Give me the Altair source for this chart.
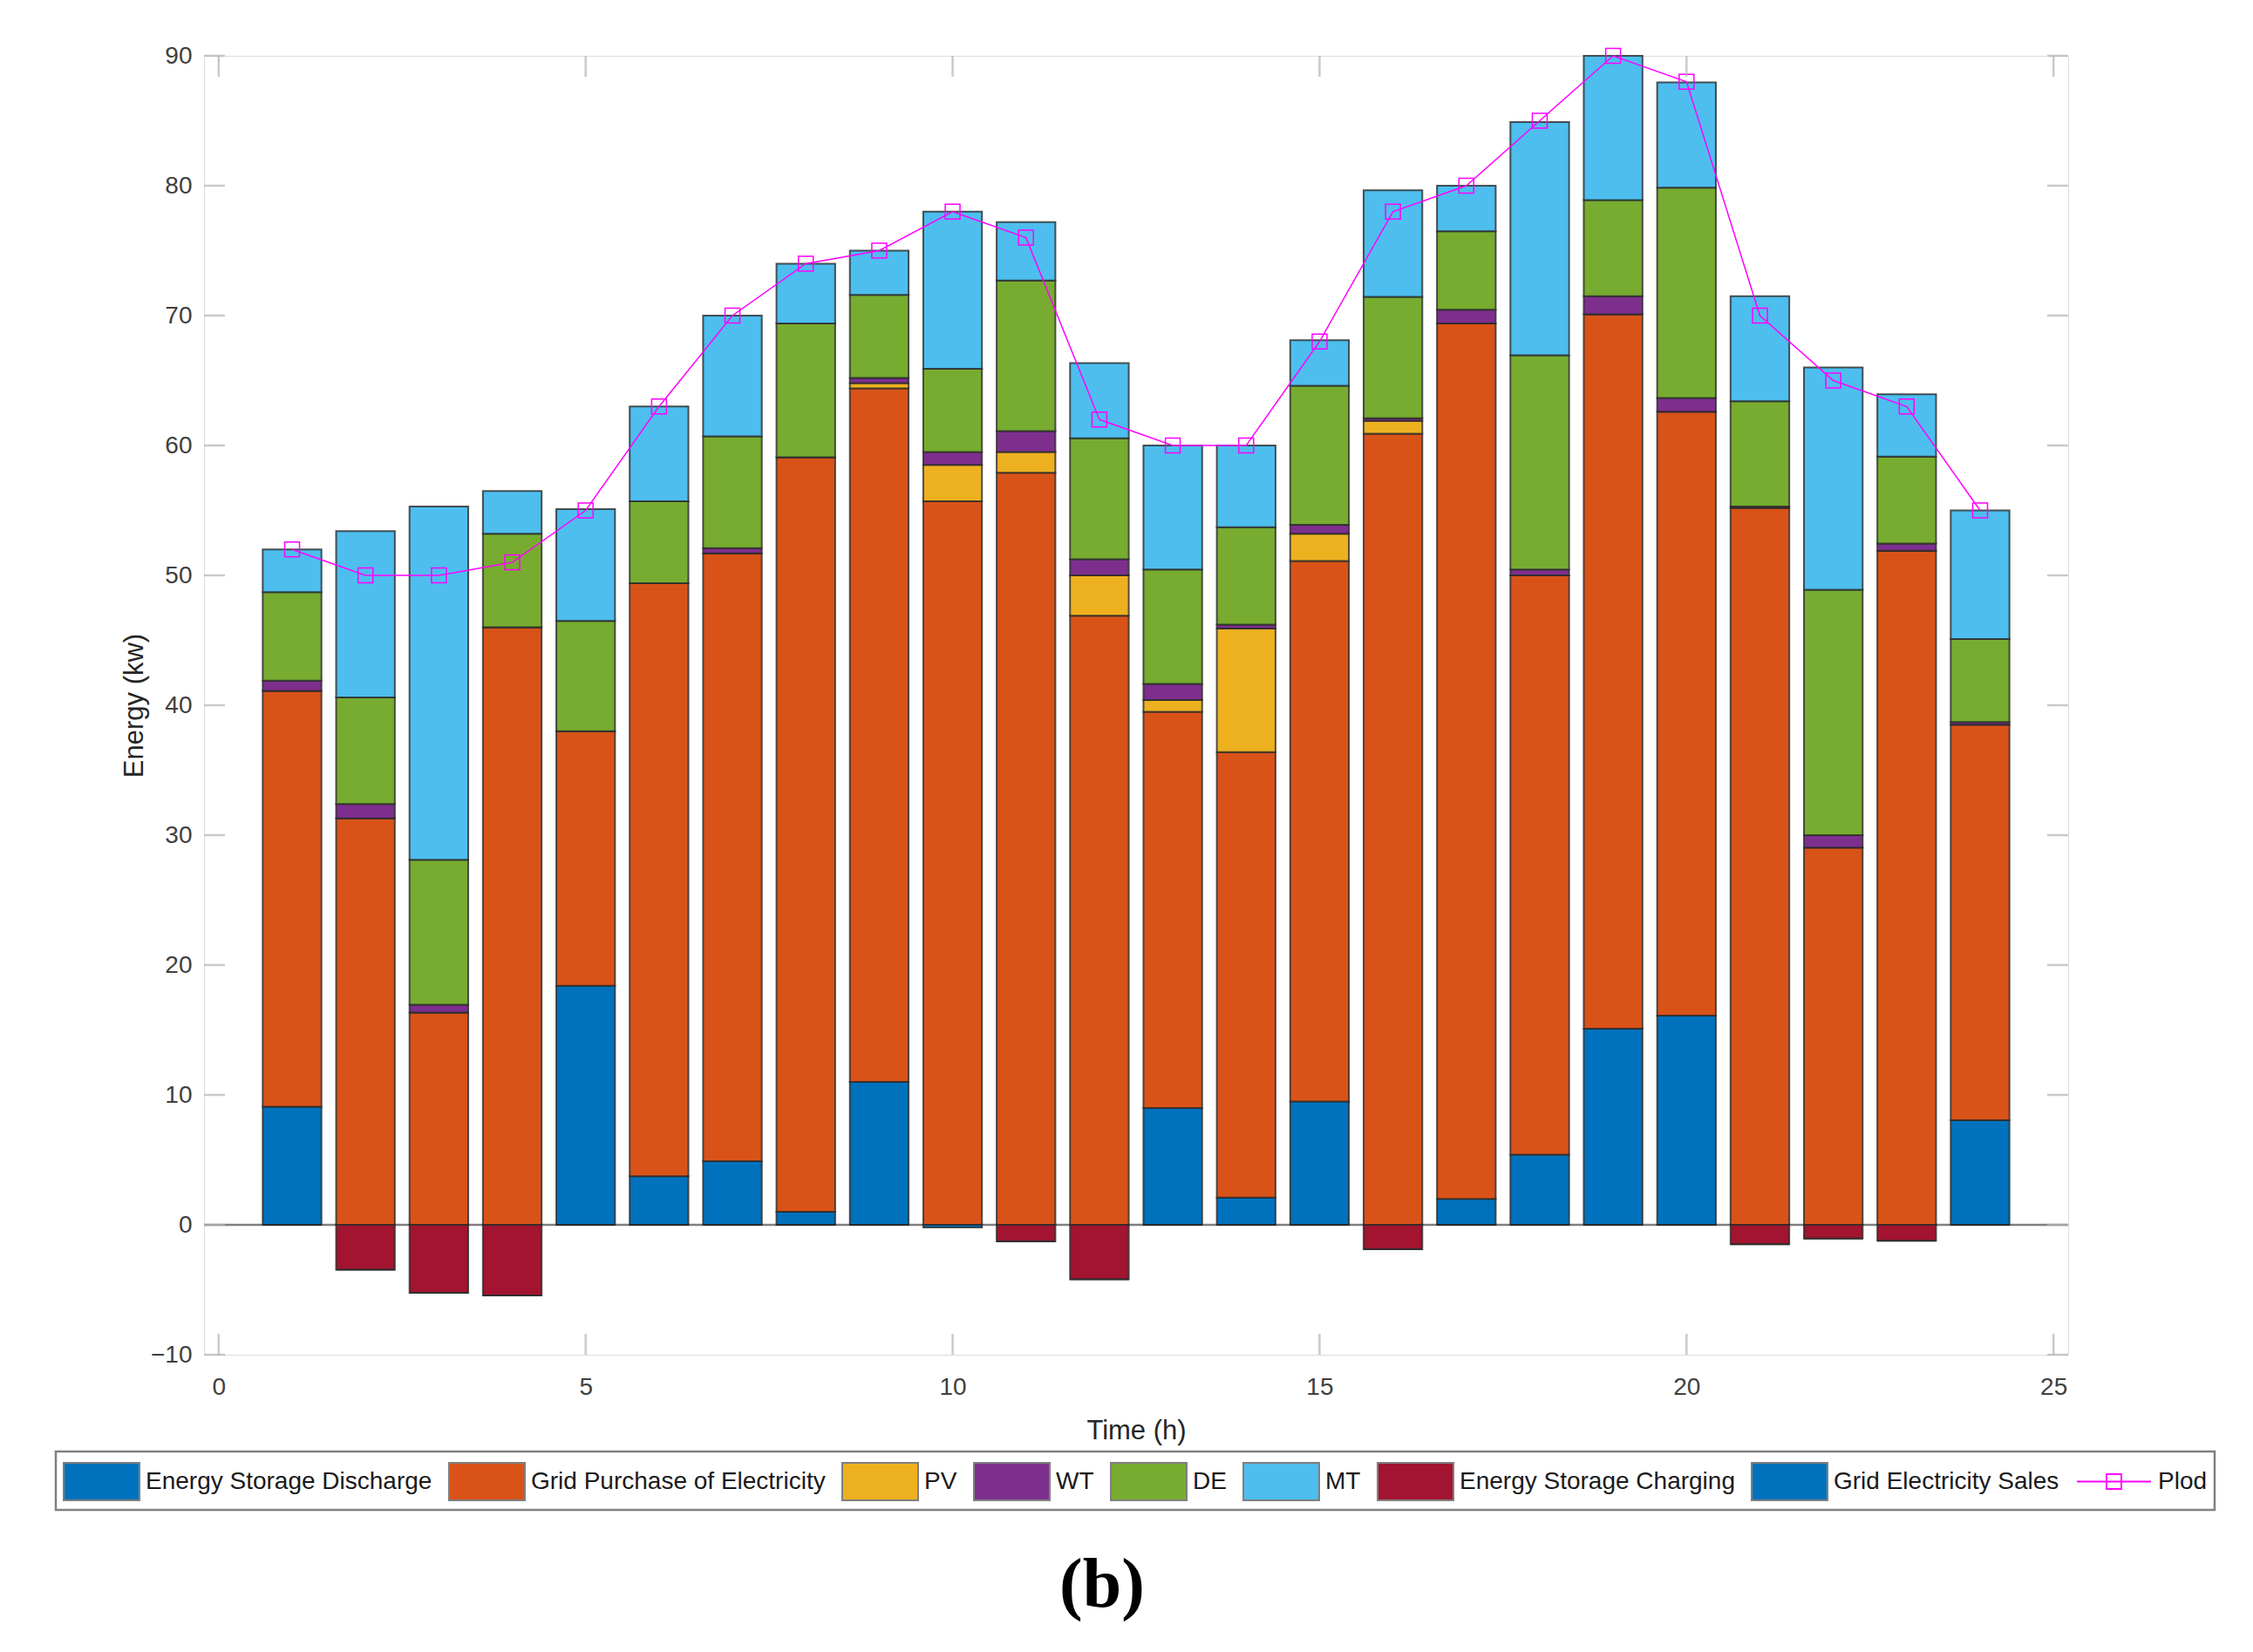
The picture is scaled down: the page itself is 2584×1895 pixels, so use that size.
import altair as alt
import pandas as pd

# ---------------- data ----------------
hours = list(range(1, 25))
discharge = [9.1, 0, 0, 0, 18.4, 3.75, 4.9, 1.0, 11.0, 0, 0, 0,
             9.0, 2.1, 9.5, 0, 2.0, 5.4, 15.1, 16.1, 0, 0, 0, 8.05]
grid_purchase = [32.0, 31.3, 16.35, 46.0, 19.6, 45.65, 46.8, 58.1, 53.4, 55.7, 57.9, 46.9,
                 30.5, 34.3, 41.6, 60.9, 67.4, 44.6, 55.0, 46.5, 55.2, 29.05, 51.9, 30.45]
pv = [0, 0, 0, 0, 0, 0, 0, 0, 0.4, 2.8, 1.6, 3.1,
      0.9, 9.5, 2.1, 1.0, 0, 0, 0, 0, 0, 0, 0, 0]
wt = [0.8, 1.1, 0.6, 0, 0, 0, 0.4, 0, 0.4, 1.0, 1.6, 1.25,
      1.25, 0.3, 0.7, 0.2, 1.05, 0.45, 1.4, 1.05, 0.1, 0.95, 0.55, 0.2]
de = [6.8, 8.2, 11.15, 7.2, 8.5, 6.3, 8.6, 10.3, 6.4, 6.4, 11.6, 9.3,
      8.8, 7.5, 10.7, 9.35, 6.05, 16.5, 7.4, 16.2, 8.1, 18.9, 6.7, 6.4]
mt = [3.3, 12.8, 27.2, 3.3, 8.6, 7.3, 9.3, 4.6, 3.4, 12.1, 4.5, 5.8,
      9.55, 6.3, 3.5, 8.2, 3.5, 17.95, 11.1, 8.1, 8.1, 17.1, 4.8, 9.9]
charging = [0, -3.45, -5.24, -5.44, 0, 0, 0, 0, 0, 0, -1.28, -4.2,
            0, 0, 0, -1.88, 0, 0, 0, 0, -1.5, -1.05, -1.23, 0]
sales = [0, 0, 0, 0, 0, 0, 0, 0, 0, -0.2, 0, 0,
         0, 0, 0, 0, 0, 0, 0, 0, 0, 0, 0, 0]
plod = [52, 50, 50, 51, 55, 63, 70, 74, 75, 78, 76, 62,
        60, 60, 68, 78, 80, 85, 90, 88, 70, 65, 63, 55]

series_names = ["Energy Storage Discharge", "Grid Purchase of Electricity", "PV", "WT",
                "DE", "MT", "Energy Storage Charging", "Grid Electricity Sales"]
series_colors = ["#0072BD", "#D95319", "#EDB120", "#7E2F8E",
                 "#77AC30", "#4DBEEE", "#A2142F", "#0072BD"]
x_ticks = [0, 5, 10, 15, 20, 25]
y_ticks = [-10, 0, 10, 20, 30, 40, 50, 60, 70, 80, 90]
caption = ["(b)"]

# ---------------- build stacked table ----------------
positive = [discharge, grid_purchase, pv, wt, de, mt]
negative = [charging, sales]
rows = []
for i, h in enumerate(hours):
    base = 0.0
    for k, s in enumerate(positive):
        rows.append(dict(hour=h, series=series_names[k], y0=base, y1=base + s[i]))
        base += s[i]
    base = 0.0
    for k, s in enumerate(negative):
        rows.append(dict(hour=h, series=series_names[6 + k], y0=base, y1=base + s[i]))
        base += s[i]
bars_df = pd.DataFrame(rows)
load_df = pd.DataFrame({"hour": hours, "plod": plod, "name": ["Plod"] * len(hours)})
xt_df = pd.DataFrame({"v": x_ticks})
yt_df = pd.DataFrame({"v": y_ticks})

W, H = 2138, 1490
FONT = "Liberation Sans"

xs = alt.Scale(domain=[-0.2, 25.2], nice=False, zero=False)
ys = alt.Scale(domain=[-10, 90], nice=False, zero=False)
xaxis = alt.Axis(values=x_ticks, grid=False, ticks=False, domain=False, format="d",
                 labelFont=FONT, labelFontSize=28, labelColor="#404040", labelPadding=23,
                 labelFlush=False, titleFont=FONT, titleFontSize=31, titleColor="#262626",
                 titleFontWeight="normal", titlePadding=21)
yaxis = alt.Axis(values=y_ticks, grid=False, ticks=False, domain=False, format="d",
                 labelFont=FONT, labelFontSize=28, labelColor="#404040", labelPadding=14,
                 labelFlush=False, titleFont=FONT, titleFontSize=31, titleColor="#262626",
                 titleFontWeight="normal", titlePadding=2)


def X(f):
    return alt.X(f"{f}:Q", scale=xs, axis=xaxis, title="Time (h)")


def Y(f):
    return alt.Y(f"{f}:Q", scale=ys, axis=yaxis, title="Energy (kw)")


baseline = alt.Chart(pd.DataFrame({"v": [0]})).mark_rule(
    stroke="#808080", strokeWidth=2.5).encode(y=Y("v"))

bars = alt.Chart(bars_df).transform_calculate(
    x0="datum.hour - 0.4", x1="datum.hour + 0.4"
).mark_bar(stroke="#2b2b2b", strokeWidth=2, strokeOpacity=0.8).encode(
    x=X("x0"), x2="x1:Q", y=Y("y0"), y2="y1:Q",
    fill=alt.Fill("series:N", scale=alt.Scale(domain=series_names, range=series_colors),
                  legend=alt.Legend(orient="none", legendX=-162, legendY=1591,
                                    direction="horizontal", columns=8, title=None,
                                    symbolType="M-1,-0.494H1V0.494H-1Z", symbolSize=7569,
                                    symbolStrokeColor="#7f7f7f", symbolStrokeWidth=2,
                                    symbolOpacity=1, labelFont=FONT, labelFontSize=28,
                                    labelColor="#1a1a1a", labelOffset=6, columnPadding=15,
                                    labelLimit=1000, padding=0)),
)

stroke_enc = alt.Stroke("name:N", scale=alt.Scale(domain=["Plod"], range=["#FF00FF"]),
                        legend=alt.Legend(orient="none", legendX=2147, legendY=1592,
                                          title=None,
                                          symbolType="M-1,0H1M-0.2,-0.2H0.2V0.2H-0.2Z",
                                          symbolSize=7225, symbolStrokeWidth=1.8,
                                          symbolFillColor="transparent",
                                          labelFont=FONT, labelFontSize=28,
                                          labelColor="#1a1a1a", labelOffset=7,
                                          labelLimit=1000, padding=0))

line = alt.Chart(load_df).mark_line(strokeWidth=1.5).encode(
    x=X("hour"), y=Y("plod"), stroke=stroke_enc)
points = alt.Chart(load_df).mark_point(shape="square", size=289, filled=False,
                                       strokeWidth=1.5, opacity=1).encode(
    x=X("hour"), y=Y("plod"), stroke=stroke_enc)

tick_style = dict(size=24, thickness=2.5, color="#b3b3b3")
top_ticks = alt.Chart(xt_df).mark_tick(orient="vertical", **tick_style).encode(
    x=X("v"), y=alt.value(12))
bottom_ticks = alt.Chart(xt_df).mark_tick(orient="vertical", **tick_style).encode(
    x=X("v"), y=alt.value(H - 12))
left_ticks = alt.Chart(yt_df).mark_tick(orient="horizontal", **tick_style).encode(
    y=Y("v"), x=alt.value(12))
right_ticks = alt.Chart(yt_df).mark_tick(orient="horizontal", **tick_style).encode(
    y=Y("v"), x=alt.value(W - 12))

legend_frame = alt.Chart(pd.DataFrame({"a": [0]})).mark_rect(
    fillOpacity=0, stroke="#808080", strokeWidth=2.5).encode(
    x=alt.value(-170), x2=alt.value(2306), y=alt.value(1601), y2=alt.value(1668))

caption_text = alt.Chart(pd.DataFrame({"label": caption})).mark_text(
    font="Liberation Serif", fontWeight="bold", fontSize=80, color="#000000",
    align="center", baseline="alphabetic").encode(
    text="label:N", x=alt.value(1030), y=alt.value(1779))

chart = alt.layer(
    baseline, bars, line, points, top_ticks, bottom_ticks, left_ticks, right_ticks,
    legend_frame, caption_text
).properties(
    width=W, height=H,
    autosize=alt.AutoSizeParams(type="none"),
    padding={"left": 226, "top": 56, "right": 200, "bottom": 333},
).configure_view(stroke="#858585", strokeWidth=2.5).configure(background="white")

chart.save("out.html", embed_options={"renderer": "svg", "actions": False})
